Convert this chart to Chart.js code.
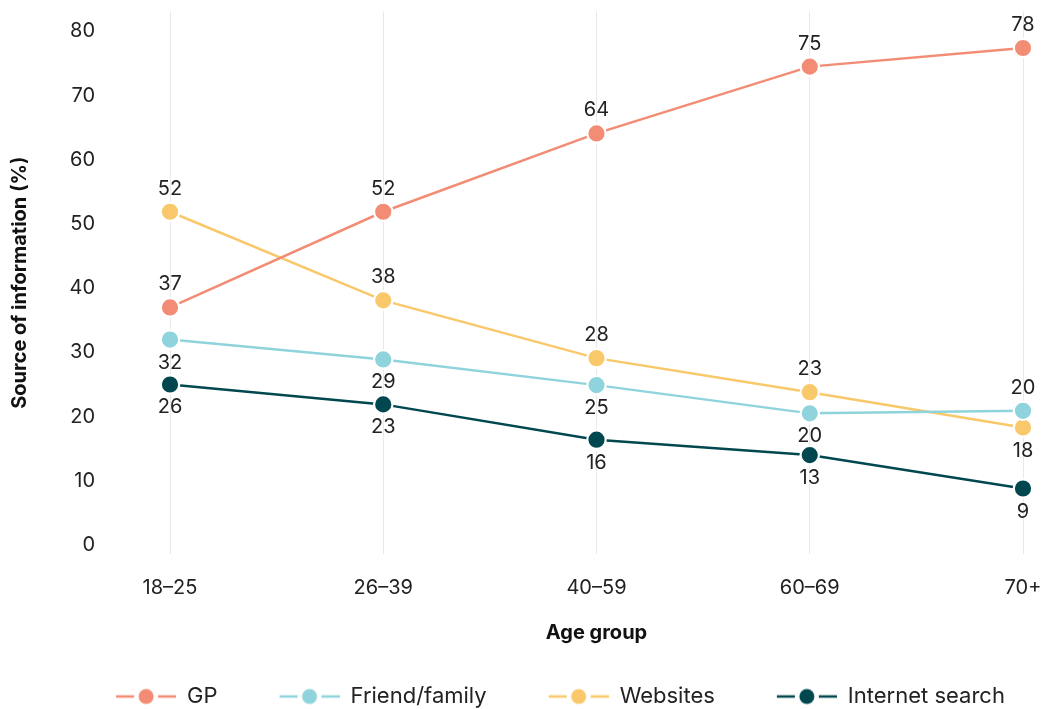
<!DOCTYPE html>
<html><head><meta charset="utf-8">
<script src="https://cdn.jsdelivr.net/npm/chart.js@4"></script>
<style>html,body{margin:0;padding:0;background:#fff}</style>
</head><body>
<canvas id="c" width="1043" height="709" style="width:1043px;height:709px;display:block"></canvas>
<script>
// ---- data ----
const categories = ['18–25', '26–39', '40–59', '60–69', '70+'];
const seriesNames = ['GP', 'Friend/family', 'Websites', 'Internet search'];
const gpValues      = [37.0, 51.9, 64.1, 74.5, 77.4];
const friendValues  = [32.0, 28.9, 24.9, 20.5, 20.9];
const websiteValues = [51.9, 38.1, 29.1, 23.8, 18.3];
const searchValues  = [25.0, 21.9, 16.4, 14.0, 8.8];
const gpLabels      = ['37', '52', '64', '75', '78'];
const friendLabels  = ['32', '29', '25', '20', '20'];
const websiteLabels = ['52', '38', '28', '23', '18'];
const searchLabels  = ['26', '23', '16', '13', '9'];
const yTicks = [0, 10, 20, 30, 40, 50, 60, 70, 80];

// ---- styling ----
const FONT = 'Inter, "DejaVu Sans", sans-serif';
const TEXT = '#222222';
const colors = ['#F28C74', '#8FD3DC', '#F9C86A', '#00474F'];
const labelPlacement = [
  ['above', 'above', 'above', 'above', 'above'],
  ['below', 'below', 'below', 'below', 'above'],
  ['above', 'above', 'above', 'above', 'below'],
  ['below', 'below', 'below', 'below', 'below']
];
const LEG_GAP = 56, LEG_SYM = 60;

function legendSymbol(color) {
  const c = document.createElement('canvas');
  c.width = LEG_GAP + LEG_SYM; c.height = 20;
  const g = c.getContext('2d');
  const cx = LEG_GAP + 30, cy = 10;
  g.strokeStyle = color; g.lineWidth = 2.5;
  g.beginPath(); g.moveTo(LEG_GAP, cy); g.lineTo(LEG_GAP + LEG_SYM, cy); g.stroke();
  g.fillStyle = '#ffffff';
  g.beginPath(); g.arc(cx, cy, 12, 0, Math.PI * 2); g.fill();
  g.fillStyle = color;
  g.beginPath(); g.arc(cx, cy, 7.5, 0, Math.PI * 2); g.fill();
  return c;
}
const symbols = colors.map(legendSymbol);

const valueSets = [gpValues, friendValues, websiteValues, searchValues];
const labelSets = [gpLabels, friendLabels, websiteLabels, searchLabels];

const datasets = seriesNames.map((name, i) => ({
  label: name,
  data: valueSets[i],
  borderColor: colors[i],
  backgroundColor: colors[i],
  borderWidth: 2.5,
  pointRadius: 9.2,
  pointBorderWidth: 2.2,
  pointBorderColor: '#ffffff',
  pointBackgroundColor: colors[i],
  tension: 0,
  labelText: labelSets[i],
  labelPos: labelPlacement[i]
}));

const pointLabels = {
  id: 'pointLabels',
  afterDatasetsDraw(chart) {
    const ctx = chart.ctx;
    ctx.save();
    ctx.font = '20px ' + FONT;
    ctx.fillStyle = TEXT;
    ctx.textAlign = 'center';
    ctx.textBaseline = 'middle';
    chart.data.datasets.forEach((ds, i) => {
      const meta = chart.getDatasetMeta(i);
      meta.data.forEach((pt, j) => {
        const up = ds.labelPos[j] === 'above';
        ctx.fillText(ds.labelText[j], pt.x, pt.y + (up ? -23 : 23));
      });
    });
    ctx.restore();
  }
};

const legendShift = {
  id: 'legendShift',
  afterLayout(chart) {
    if (chart.legend) { chart.legend.left += 21; chart.legend.right += 21; }
  }
};

function zeroPadding(s) {
  s.paddingTop = 0; s.paddingBottom = 0; s.paddingLeft = 0; s.paddingRight = 0;
}

new Chart(document.getElementById('c'), {
  type: 'line',
  data: { labels: categories, datasets },
  plugins: [pointLabels, legendShift],
  options: {
    responsive: false,
    animation: false,
    events: [],
    devicePixelRatio: 1,
    layout: { padding: { top: 8, right: 20, bottom: -8.5, left: 0 } },
    scales: {
      x: {
        offset: false,
        grid: { color: '#e9e9e9', lineWidth: 1, drawTicks: false },
        border: { display: false },
        ticks: { padding: 22, color: TEXT, font: { family: FONT, size: 20 } },
        title: { display: true, text: 'Age group', color: '#111', font: { family: FONT, size: 20, weight: 'bold' }, padding: { top: 0, bottom: 34.5 } },
        afterFit: (s) => { s.height = 125.5; zeroPadding(s); }
      },
      y: {
        min: -1.4,
        max: 83.1,
        afterBuildTicks: (s) => { s.ticks = yTicks.map(v => ({ value: v })); },
        grid: { display: false, drawTicks: false },
        border: { display: false },
        ticks: { padding: 75, color: TEXT, font: { family: FONT, size: 20 } },
        title: { display: true, text: 'Source of information (%)', color: '#111', font: { family: FONT, size: 20, weight: 'bold' }, padding: { top: 8, bottom: 0 } },
        afterFit: (s) => { s.width = 170; zeroPadding(s); }
      }
    },
    plugins: {
      tooltip: { enabled: false },
      legend: {
        position: 'bottom',
        labels: {
          usePointStyle: true,
          pointStyleWidth: LEG_GAP + LEG_SYM,
          boxHeight: 18,
          padding: 6,
          color: TEXT,
          font: { family: FONT, size: 22 },
          generateLabels(chart) {
            return chart.data.datasets.map((ds, i) => ({
              text: ds.label,
              fillStyle: colors[i],
              strokeStyle: colors[i],
              lineWidth: 0,
              pointStyle: symbols[i],
              hidden: false,
              datasetIndex: i,
              fontColor: TEXT
            }));
          }
        }
      }
    }
  }
});
</script>
</body></html>
